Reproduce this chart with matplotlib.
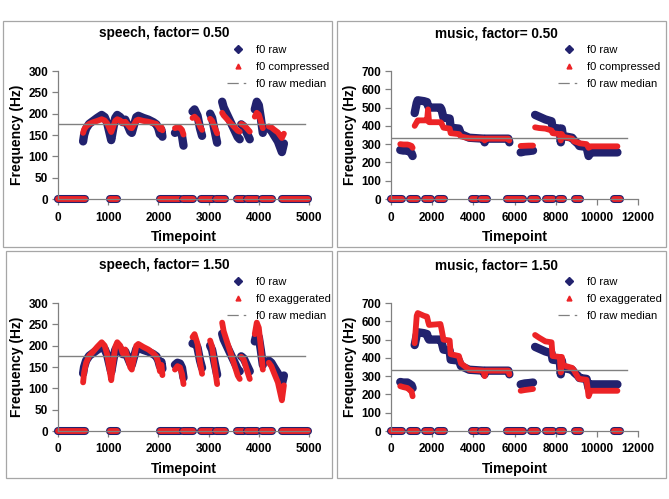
import matplotlib
matplotlib.use("Agg")
import matplotlib.pyplot as plt
from matplotlib.lines import Line2D
from matplotlib.patches import Rectangle

plt.rcParams['font.family'] = ['Liberation Sans', 'DejaVu Sans']

NAVY = '#22226e'
RED = '#ec2326'
GRAY = '#808080'

# ---- speech: voiced contours (timepoint, Hz) ----
speech_t = [
    [500, 520, 560, 620, 700, 780, 870, 930, 980, 1020, 1060, 1100, 1140, 1180, 1240, 1290,
     1340, 1390, 1440, 1470, 1510, 1560, 1600, 1700, 1800, 1900, 1960, 2000, 2030, 2060, 2080],
    [2330, 2380, 2430, 2470, 2500],
    [2680, 2720, 2780, 2830, 2870],
    [3030, 3070, 3120, 3170],
    [3270, 3300, 3400, 3500, 3580, 3620],
    [3650, 3700, 3760, 3820],
    [3920, 3960, 4000, 4040, 4080],
    [4200, 4250, 4300, 4380, 4460, 4500],
]
speech_raw = [
    [135, 150, 165, 176, 183, 190, 197, 192, 178, 158, 138, 165, 190, 197, 192, 180,
     186, 172, 158, 155, 172, 192, 195, 190, 186, 180, 175, 165, 152, 162, 146],
    [155, 160, 158, 148, 125],
    [205, 210, 195, 165, 148],
    [200, 190, 160, 132],
    [228, 215, 190, 165, 145, 140],
    [175, 170, 155, 140],
    [210, 228, 220, 190, 155],
    [165, 160, 150, 135, 110, 130],
]
speech_compressed = [
    [155, 163, 170, 176, 180, 183, 187, 184, 177, 167, 157, 170, 183, 187, 184, 178,
     181, 174, 167, 166, 174, 184, 186, 183, 181, 178, 176, 170, 164, 169, 161],
    [166, 168, 167, 162, 151],
    [190, 193, 186, 170, 162],
    [188, 183, 168, 154],
    [202, 196, 183, 170, 160, 158],
    [176, 173, 166, 158],
    [193, 202, 198, 183, 166],
    [170, 168, 163, 156, 143, 153],
]
speech_exaggerated = [
    [114, 137, 160, 176, 186, 197, 208, 200, 179, 149, 119, 160, 197, 208, 200, 182,
     191, 170, 149, 144, 170, 200, 204, 197, 191, 182, 174, 160, 140, 155, 131],
    [144, 152, 149, 134, 110],
    [220, 227, 204, 160, 134],
    [212, 197, 152, 110],
    [254, 234, 197, 160, 130, 122],
    [174, 167, 144, 122],
    [227, 254, 242, 197, 144],
    [160, 152, 137, 114, 72, 107],
]
speech_unvoiced = [(0, 540), (1040, 1170), (2030, 2430), (2490, 2690), (2850, 3090),
                   (3150, 3330), (3570, 3700), (3760, 3970), (4060, 4260), (4460, 4980)]
speech_median = 176
speech_median_span = (0, 4930)

# ---- music: voiced contours (timepoint, Hz) ----
music_t = [
    [450, 600, 800, 900, 1000, 1050],
    [1150, 1250, 1300, 1600, 1750, 1800, 1850, 2400, 2450, 2550, 2850, 2900, 3300, 3400,
     3800, 4500, 4550, 4600, 5700, 5750],
    [6300, 6500, 6700, 6900],
    [7000, 7200, 7500, 7800, 7850, 8200, 8250, 8300, 8350, 8800, 8900, 9100, 9150, 9500,
     9600, 9700, 11000],
]
music_raw = [
    [268, 265, 265, 258, 250, 235],
    [470, 525, 540, 535, 530, 510, 500, 500, 490, 445, 440, 390, 385, 355,
     335, 330, 310, 330, 330, 310],
    [255, 260, 262, 265],
    [460, 450, 435, 425, 390, 385, 310, 385, 345, 335, 320, 300, 290, 285,
     235, 255, 255],
]
music_compressed = [
    [300, 298, 298, 295, 290, 280],
    [400, 420, 430, 430, 430, 490, 420, 420, 415, 390, 385, 360, 355, 342,
     332, 330, 320, 330, 330, 320],
    [290, 291, 292, 292],
    [392, 388, 385, 375, 360, 355, 320, 355, 340, 330, 315, 308, 305, 300,
     280, 288, 288],
]
music_exaggerated = [
    [245, 240, 235, 225, 215, 190],
    [480, 630, 645, 630, 625, 600, 580, 585, 560, 500, 495, 420, 410, 370,
     335, 330, 300, 330, 330, 310],
    [220, 224, 227, 230],
    [525, 510, 490, 485, 410, 405, 320, 405, 360, 345, 330, 290, 285, 280,
     190, 220, 220],
]
music_unvoiced = [(0, 550), (920, 1250), (1650, 1930), (2280, 2580), (3920, 4160),
                  (4360, 4650), (5620, 6430), (6790, 7080), (7550, 7870), (8160, 8370),
                  (8920, 9180), (10830, 11110)]
music_median = 332
music_median_span = (0, 11450)

W, H = 669, 499
fig = plt.figure(figsize=(W / 100, H / 100), dpi=100)


def px_box(x0, y0, x1, y1):
    # pixel box (top-left origin) -> figure fraction rect
    return [x0 / W, 1 - y1 / H, (x1 - x0) / W, (y1 - y0) / H]


def panel(frame, axrect, title, title_xy, times, raw, mod, unvoiced, median, mspan,
          modlabel, xmax, xstep, ymax, ystep, leg_xy):
    fx0, fy0, fx1, fy1 = frame
    fig.patches.append(Rectangle((fx0 / W, 1 - fy1 / H), (fx1 - fx0) / W, (fy1 - fy0) / H,
                                 transform=fig.transFigure, fill=False,
                                 edgecolor='#a6a6a6', lw=0.9))
    ax = fig.add_axes(px_box(*axrect))
    for t, v in zip(times, raw):
        ax.plot(t, v, color=NAVY, lw=6.0, solid_capstyle='round',
                solid_joinstyle='round', clip_on=False)
    for t, v in zip(times, mod):
        ax.plot(t, v, color=RED, lw=4.2, solid_capstyle='round',
                solid_joinstyle='round', clip_on=False)
    for a, b in unvoiced:
        ax.plot([a, b], [0, 0], color=NAVY, lw=5.8, solid_capstyle='round', clip_on=False)
        ax.plot([a, b], [0, 0], color=RED, lw=4.2, solid_capstyle='round', clip_on=False)
    ax.plot(mspan, [median, median], color=GRAY, lw=1.0)

    ax.set_xlim(0, xmax)
    ax.set_ylim(0, ymax)
    ax.set_xticks(range(0, xmax + 1, xstep))
    ax.set_yticks(range(0, ymax + 1, ystep))
    for s in ['top', 'right']:
        ax.spines[s].set_visible(False)
    for s in ['left', 'bottom']:
        ax.spines[s].set_color(GRAY)
        ax.spines[s].set_linewidth(0.9)
    ax.tick_params(colors=GRAY, length=4, width=0.9, labelcolor='black',
                   labelsize=8.5, pad=3)
    ax.tick_params(axis='x', pad=5)
    for lab in ax.get_xticklabels() + ax.get_yticklabels():
        lab.set_fontweight('bold')
    ax.set_xlabel('Timepoint', fontsize=10, fontweight='bold', labelpad=5)
    ax.set_ylabel('Frequency (Hz)', fontsize=10, fontweight='bold', labelpad=3)

    fig.text(title_xy[0] / W, 1 - title_xy[1] / H, title, ha='center', va='center',
             fontsize=9.8, fontweight='bold')

    handles = [
        Line2D([], [], color=NAVY, marker='D', ls='none', ms=4),
        Line2D([], [], color=RED, marker='^', ls='none', ms=3.5),
        Line2D([], [], color=GRAY, lw=0.9, ls=(0, (9, 4, 2, 4))),
    ]
    fig.legend(handles, ['f0 raw', modlabel, 'f0 raw median'],
               loc='upper left', bbox_to_anchor=(leg_xy[0] / W, 1 - leg_xy[1] / H),
               frameon=False, fontsize=8, handlelength=2.0, handletextpad=0.6,
               labelspacing=0.62, borderpad=0, borderaxespad=0)
    return ax


panel((3, 21, 332, 247), (58, 71, 309, 199), 'speech, factor= 0.50', (164, 33),
      speech_t, speech_raw, speech_compressed, speech_unvoiced, speech_median,
      speech_median_span, 'f0 compressed', 5000, 1000, 300, 50, (227, 45))
panel((337, 21, 666, 247), (391, 71, 638, 199), 'music, factor= 0.50', (496, 33),
      music_t, music_raw, music_compressed, music_unvoiced, music_median,
      music_median_span, 'f0 compressed', 12000, 2000, 700, 100, (558, 45))
panel((6, 251, 332, 478), (58, 303, 309, 431), 'speech, factor= 1.50', (164, 265),
      speech_t, speech_raw, speech_exaggerated, speech_unvoiced, speech_median,
      speech_median_span, 'f0 exaggerated', 5000, 1000, 300, 50, (227, 277))
panel((337, 251, 666, 478), (391, 303, 638, 431), 'music, factor= 1.50', (496, 265),
      music_t, music_raw, music_exaggerated, music_unvoiced, music_median,
      music_median_span, 'f0 exaggerated', 12000, 2000, 700, 100, (558, 277))

fig.savefig('out.png', dpi=100)
